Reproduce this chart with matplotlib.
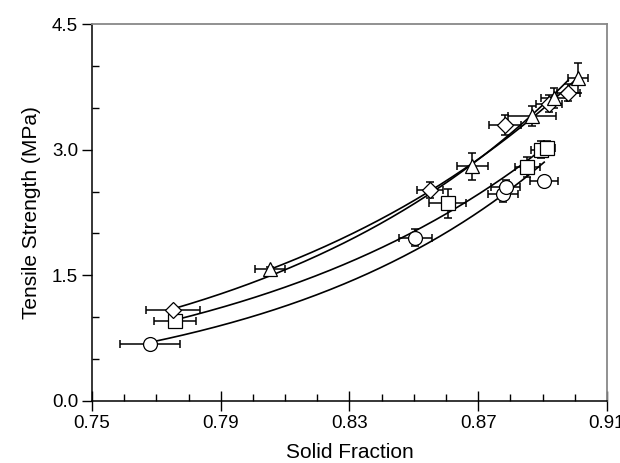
import numpy as np
import matplotlib
matplotlib.use("Agg")
import matplotlib.pyplot as plt

plt.rcParams['font.family'] = ['Liberation Sans', 'DejaVu Sans']

# Circles
circ_x = [0.768, 0.8505, 0.8778, 0.8786, 0.8905]
circ_y = [0.68, 1.95, 2.47, 2.56, 2.63]
circ_xe = [0.0093, 0.005, 0.0047, 0.0045, 0.0044]
circ_ye = [0.03, 0.10, 0.10, 0.08, 0.05]

# Squares
sq_x = [0.7757, 0.8605, 0.8853, 0.8894, 0.8915]
sq_y = [0.955, 2.36, 2.79, 3.00, 3.02]
sq_xe = [0.0065, 0.0057, 0.0040, 0.0030, 0.0025]
sq_ye = [0.05, 0.17, 0.12, 0.10, 0.08]

# Diamonds
dia_x = [0.7752, 0.8550, 0.8782, 0.8920, 0.8980]
dia_y = [1.085, 2.52, 3.30, 3.55, 3.68]
dia_xe = [0.0085, 0.0040, 0.0050, 0.0040, 0.0035]
dia_ye = [0.04, 0.10, 0.12, 0.10, 0.10]

# Triangles
tri_x = [0.8052, 0.8682, 0.8868, 0.8935, 0.9010]
tri_y = [1.575, 2.80, 3.40, 3.62, 3.86]
tri_xe = [0.0047, 0.0048, 0.0075, 0.0040, 0.0030]
tri_ye = [0.03, 0.16, 0.12, 0.12, 0.18]

series = [
    (circ_x, circ_y, circ_xe, circ_ye, 'o', 10),
    (sq_x, sq_y, sq_xe, sq_ye, 's', 10),
    (dia_x, dia_y, dia_xe, dia_ye, 'D', 8),
    (tri_x, tri_y, tri_xe, tri_ye, '^', 10),
]

fig = plt.figure(figsize=(6.2, 4.63), dpi=100)
ax = fig.add_axes([0.1484, 0.134, 0.8306, 0.814])

for xs, ys, xe, ye, m, ms in series:
    xs = np.array(xs); ys = np.array(ys)
    b, a = np.polyfit(xs, np.log(ys), 1)
    xx = np.linspace(xs.min(), xs.max(), 200)
    ax.plot(xx, np.exp(a + b * xx), color='black', lw=1.2, zorder=2)
    ax.errorbar(xs, ys, xerr=xe, yerr=ye, fmt='none', ecolor='black',
                elinewidth=1.1, capsize=3, capthick=1.1, zorder=3)
    ax.plot(xs, ys, linestyle='none', marker=m, ms=ms, mfc='white',
            mec='black', mew=0.9, zorder=4)

ax.set_xlim(0.75, 0.91)
ax.set_ylim(0.0, 4.5)
ax.set_xticks([0.75, 0.79, 0.83, 0.87, 0.91])
ax.set_xticklabels(['0.75', '0.79', '0.83', '0.87', '0.91'])
ax.set_xticks(np.arange(0.75, 0.9101, 0.01), minor=True)
ax.set_yticks([0.0, 1.5, 3.0, 4.5])
ax.set_yticklabels(['0.0', '1.5', '3.0', '4.5'])
ax.set_yticks(np.arange(0, 4.51, 0.5), minor=True)

ax.tick_params(axis='x', which='major', direction='inout', length=14, width=1, labelsize=13.5, pad=3)
ax.tick_params(axis='x', which='minor', direction='in', length=5, width=1)
ax.tick_params(axis='y', which='major', direction='out', length=7, width=1, labelsize=13.5, pad=3)
ax.tick_params(axis='y', which='minor', direction='in', length=5, width=1)

for s in ['left', 'bottom']:
    ax.spines[s].set_linewidth(1.1)
    ax.spines[s].set_color('black')
for s in ['top', 'right']:
    ax.spines[s].set_linewidth(1.3)
    ax.spines[s].set_color('#888888')

ax.set_xlabel('Solid Fraction', fontsize=15, labelpad=8)
ax.set_ylabel('Tensile Strength (MPa)', fontsize=15, labelpad=8)

fig.savefig('out.png', dpi=100)
